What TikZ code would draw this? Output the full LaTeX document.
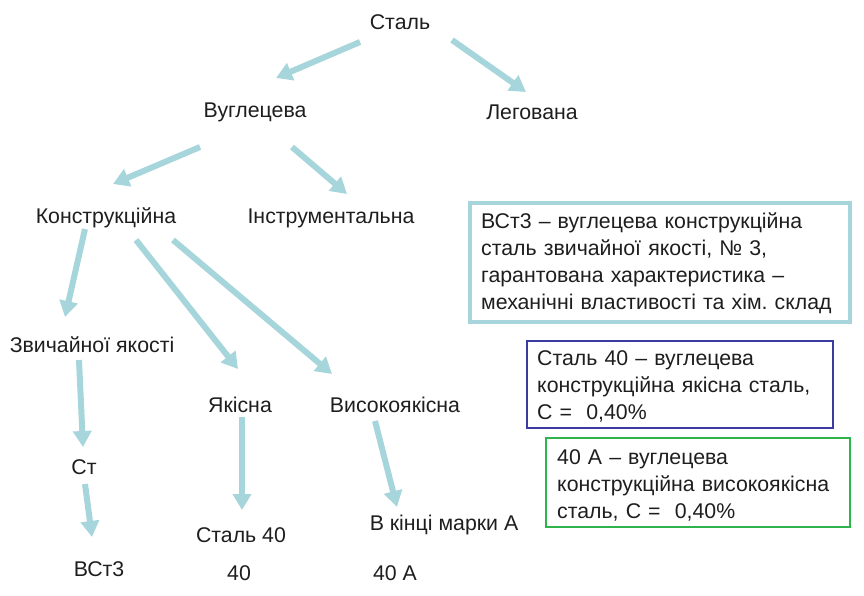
\documentclass[tikz,border=0pt]{standalone}
\usepackage{fontspec}
\setmainfont{Liberation Sans}
\usetikzlibrary{arrows.meta}
\definecolor{arr}{RGB}{166,214,219}
\definecolor{navyb}{RGB}{60,60,160}
\definecolor{greenb}{RGB}{46,180,74}
\definecolor{txt}{RGB}{30,30,30}
\frenchspacing
\tikzset{
  lbl/.style={text=txt, font=\fontsize{21.3}{24}\selectfont, inner sep=0pt, anchor=center},
  conn/.style={draw=arr, line width=6pt, -{Triangle[length=16pt,width=18pt]}},
  infobox/.style={text=txt, font=\fontsize{21.3}{27}\selectfont, align=left, anchor=north west, inner sep=0pt, text width=#1},
}
\begin{document}
\begin{tikzpicture}[x=1pt,y=-1pt]
\useasboundingbox (0,0) rectangle (864,595);
% labels
\node[lbl] (stal) at (400,22) {Сталь};
\node[lbl] (vugl) at (255,112) {Вуглецева};
\node[lbl] (leg) at (532,112) {Легована};
\node[lbl] (konst) at (106,218) {Конструкційна};
\node[lbl] (instr) at (331,218) {Інструментальна};
\node[lbl] (zvych) at (92,345) {Звичайної якості};
\node[lbl] (yak) at (240,405) {Якісна};
\node[lbl] (vys) at (395,405) {Високоякісна};
\node[lbl] (st) at (84,467) {Ст};
\node[lbl] (vst) at (99,569) {ВСт3};
\node[lbl] (st40) at (241,535) {Сталь 40};
\node[lbl] (n40) at (239,573) {40};
\node[lbl] (kinci) at (444,525) {В кінці марки А};
\node[lbl] (n40a) at (395,573) {40 А};
% arrow end points
\coordinate (a1s) at (360,42);  \coordinate (a1e) at (276,78);
\coordinate (a2s) at (452,40);  \coordinate (a2e) at (526,92);
\coordinate (a3s) at (200,147); \coordinate (a3e) at (113,184);
\coordinate (a4s) at (292,147); \coordinate (a4e) at (347,194);
\coordinate (a5s) at (85,229);  \coordinate (a5e) at (65,317);
\coordinate (a6s) at (136,240); \coordinate (a6e) at (238,369);
\coordinate (a7s) at (173,240); \coordinate (a7e) at (332,374);
\coordinate (a8s) at (79,360);  \coordinate (a8e) at (83,447);
\coordinate (a9s) at (85,484);  \coordinate (a9e) at (92,537);
\coordinate (a10s) at (242,417); \coordinate (a10e) at (242,510);
\coordinate (a11s) at (375,421); \coordinate (a11e) at (397,507);
\draw[conn] (a1s) -- (a1e);
\draw[conn] (a2s) -- (a2e);
\draw[conn] (a3s) -- (a3e);
\draw[conn] (a4s) -- (a4e);
\draw[conn] (a5s) -- (a5e);
\draw[conn] (a6s) -- (a6e);
\draw[conn] (a7s) -- (a7e);
\draw[conn] (a8s) -- (a8e);
\draw[conn] (a9s) -- (a9e);
\draw[conn] (a10s) -- (a10e);
\draw[conn] (a11s) -- (a11e);
% boxes
\draw[draw=arr, line width=4pt] (470,203) rectangle (850,322);
\node[infobox=370pt] (box1) at (481,212) {ВСт3 – вуглецева конструкційна\\сталь звичайної якості, № 3,\\гарантована характеристика –\\механічні властивості та хім. склад};
\draw[draw=navyb, line width=1.6pt] (527,341) rectangle (833,428);
\node[infobox=300pt] (box2) at (537,350) {Сталь 40 – вуглецева\\конструкційна якісна сталь,\\С =~~0,40\%};
\draw[draw=greenb, line width=1.6pt] (546,438) rectangle (850,527);
\node[infobox=300pt] (box3) at (557,449) {40 А – вуглецева\\конструкційна високоякісна\\сталь, С =~~0,40\%};
\end{tikzpicture}
\end{document}
